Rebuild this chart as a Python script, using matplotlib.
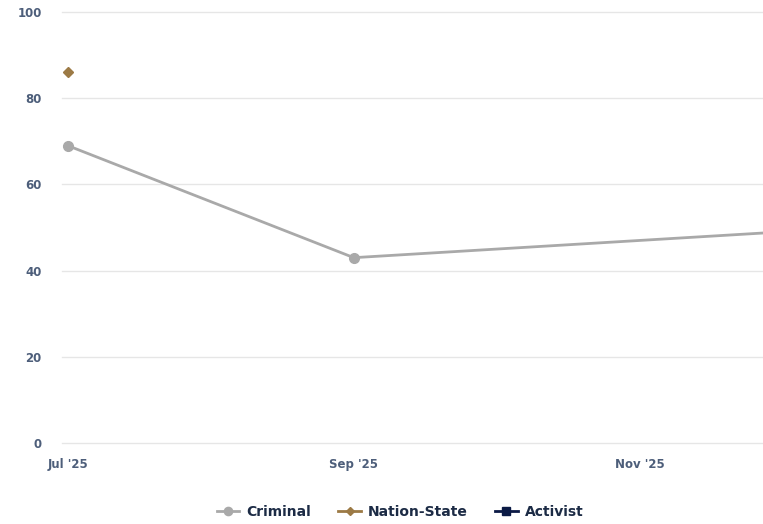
import matplotlib
matplotlib.use("Agg")
import matplotlib.pyplot as plt
import numpy as np

months = ["Jul '25", "Aug '25", "Sep '25", "Oct '25", "Nov '25", "Dec '25"]
tick_labels = ["Jul '25", "Sep '25", "Nov '25"]
tick_idx = [0, 2, 4]

criminal_idx = [0, 2, 5]
criminal_vals = [69, 43, 49]
nation_idx = [0]
nation_vals = [86]
activist_idx = []
activist_vals = []

yticks = [0, 20, 40, 60, 80, 100]

W, H = 763, 524
fig = plt.figure(figsize=(W / 100, H / 100), dpi=100)
ax = fig.add_axes([62 / W, 1 - 443 / H, 1 - 62 / W, (443 - 12) / H])

label_color = "#4d5e7a"
text_color = "#1c2b45"

l1, = ax.plot(criminal_idx, criminal_vals, color="#a9a9a9", lw=2, marker="o",
              markersize=7, markevery=[0, 1], clip_on=True, label="Criminal", zorder=3)
l2, = ax.plot(nation_idx, nation_vals, color="#9c7a45", lw=2, marker="D",
              markersize=5, linestyle="-", label="Nation-State", zorder=3)
l3, = ax.plot(activist_idx, activist_vals, color="#0b1a45", lw=2, marker="s",
              markersize=6, label="Activist", zorder=3)

ax.set_xlim(-0.04, 4.86)
ax.set_ylim(0, 100)
ax.set_yticks(yticks)
ax.set_xticks(tick_idx)
ax.set_xticklabels(tick_labels)
ax.grid(axis="y", color="#e6e6e6", lw=1)
for gl in ax.yaxis.get_gridlines():
    gl.set_clip_on(False)
ax.set_axisbelow(True)
for s in ax.spines.values():
    s.set_visible(False)
ax.tick_params(axis="both", length=0, labelsize=8.5, colors=label_color)
ax.tick_params(axis="y", pad=14.5)
ax.tick_params(axis="x", pad=11)
for t in ax.get_yticklabels() + ax.get_xticklabels():
    t.set_fontweight("bold")
    t.set_color(label_color)

leg = fig.legend(handles=[l1, l2, l3], loc="center", bbox_to_anchor=(400 / W, 1 - 512 / H),
                 ncol=3, frameon=False, handlelength=1.6, columnspacing=2.0,
                 handletextpad=0.5, markerscale=0.85, prop={"weight": "bold", "size": 10})
for t in leg.get_texts():
    t.set_color(text_color)

fig.savefig("out.png", dpi=100)
